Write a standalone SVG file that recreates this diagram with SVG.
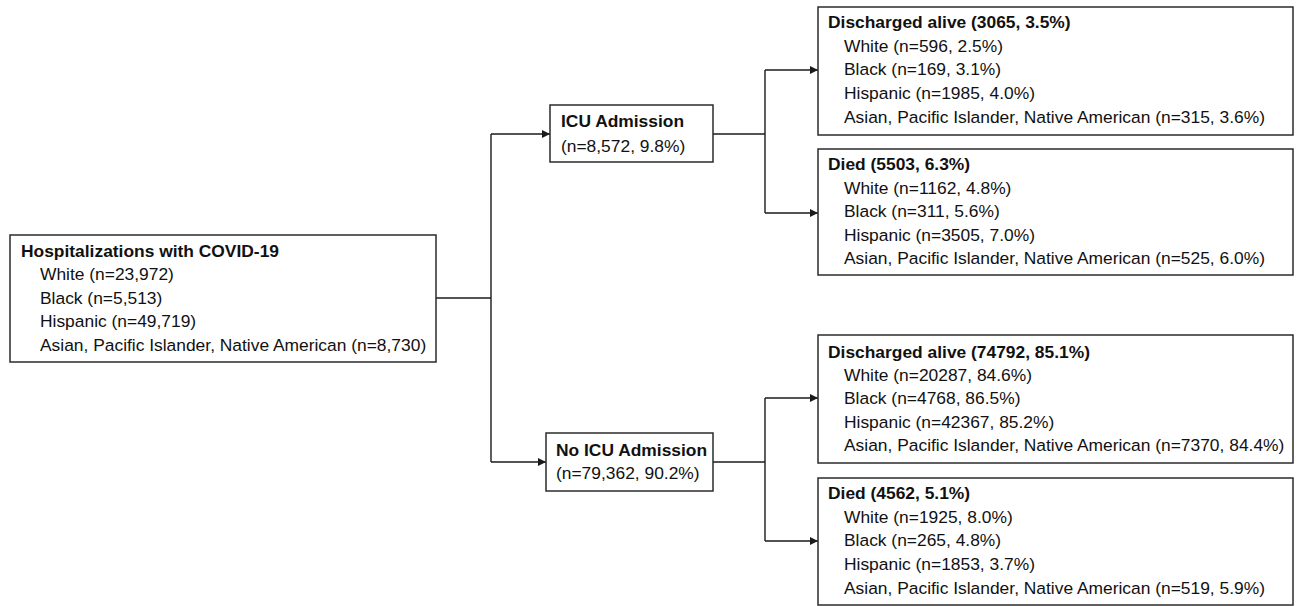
<svg xmlns="http://www.w3.org/2000/svg" width="1298" height="606" viewBox="0 0 1298 606">
<style>
.box{fill:#fff;stroke:#2b2b2b;stroke-width:1.5}
.t{font-family:"Liberation Sans",Arial,sans-serif;font-size:17.4px;fill:#111}
.b{font-weight:bold}
.c{fill:none;stroke:#1a1a1a;stroke-width:1.4}
</style>
<defs>
<marker id="ah" viewBox="0 0 10 10" refX="10" refY="5" markerWidth="9" markerHeight="8" markerUnits="userSpaceOnUse" orient="auto">
<path d="M0,0 L10,5 L0,10 Z" fill="#1a1a1a"/>
</marker>
</defs>
<rect width="1298" height="606" fill="#fff"/>
<g id="connectors">
<path class="c" d="M436,298 H491"/>
<path class="c" d="M491,134 V462"/>
<path class="c" d="M491,134 H550" marker-end="url(#ah)"/>
<path class="c" d="M491,462 H546" marker-end="url(#ah)"/>
<path class="c" d="M713,134 H765"/>
<path class="c" d="M765,70 V213"/>
<path class="c" d="M765,70 H818" marker-end="url(#ah)"/>
<path class="c" d="M765,213 H818" marker-end="url(#ah)"/>
<path class="c" d="M713,462 H765"/>
<path class="c" d="M765,398 V541"/>
<path class="c" d="M765,398 H818" marker-end="url(#ah)"/>
<path class="c" d="M765,541 H818" marker-end="url(#ah)"/>
</g>
<g id="root">
<rect class="box" x="10" y="235" width="426" height="127"/>
<text class="t b" x="21" y="257">Hospitalizations with COVID-19</text>
<text class="t" x="40" y="280">White (n=23,972)</text>
<text class="t" x="40" y="304">Black (n=5,513)</text>
<text class="t" x="40" y="327">Hispanic (n=49,719)</text>
<text class="t" x="40" y="351">Asian, Pacific Islander, Native American (n=8,730)</text>
</g>
<g id="icu">
<rect class="box" x="550" y="105" width="163" height="57"/>
<text class="t b" x="561" y="127">ICU Admission</text>
<text class="t" x="561" y="152">(n=8,572, 9.8%)</text>
</g>
<g id="noicu">
<rect class="box" x="546" y="433" width="167" height="58"/>
<text class="t b" x="556" y="456">No ICU Admission</text>
<text class="t" x="556" y="479">(n=79,362, 90.2%)</text>
</g>
<g id="icu-alive">
<rect class="box" x="818" y="7" width="475" height="128"/>
<text class="t b" x="828" y="28">Discharged alive (3065, 3.5%)</text>
<text class="t" x="844" y="52">White (n=596, 2.5%)</text>
<text class="t" x="844" y="75">Black (n=169, 3.1%)</text>
<text class="t" x="844" y="99">Hispanic (n=1985, 4.0%)</text>
<text class="t" x="844" y="123">Asian, Pacific Islander, Native American (n=315, 3.6%)</text>
</g>
<g id="icu-died">
<rect class="box" x="818" y="149" width="475" height="126"/>
<text class="t b" x="828" y="170">Died (5503, 6.3%)</text>
<text class="t" x="844" y="194">White (n=1162, 4.8%)</text>
<text class="t" x="844" y="217">Black (n=311, 5.6%)</text>
<text class="t" x="844" y="241">Hispanic (n=3505, 7.0%)</text>
<text class="t" x="844" y="264">Asian, Pacific Islander, Native American (n=525, 6.0%)</text>
</g>
<g id="noicu-alive">
<rect class="box" x="818" y="335" width="475" height="128"/>
<text class="t b" x="828" y="358">Discharged alive (74792, 85.1%)</text>
<text class="t" x="844" y="381">White (n=20287, 84.6%)</text>
<text class="t" x="844" y="404">Black (n=4768, 86.5%)</text>
<text class="t" x="844" y="428">Hispanic (n=42367, 85.2%)</text>
<text class="t" x="844" y="451">Asian, Pacific Islander, Native American (n=7370, 84.4%)</text>
</g>
<g id="noicu-died">
<rect class="box" x="818" y="478" width="475" height="127"/>
<text class="t b" x="828" y="499">Died (4562, 5.1%)</text>
<text class="t" x="844" y="523">White (n=1925, 8.0%)</text>
<text class="t" x="844" y="546">Black (n=265, 4.8%)</text>
<text class="t" x="844" y="570">Hispanic (n=1853, 3.7%)</text>
<text class="t" x="844" y="594">Asian, Pacific Islander, Native American (n=519, 5.9%)</text>
</g>
</svg>
